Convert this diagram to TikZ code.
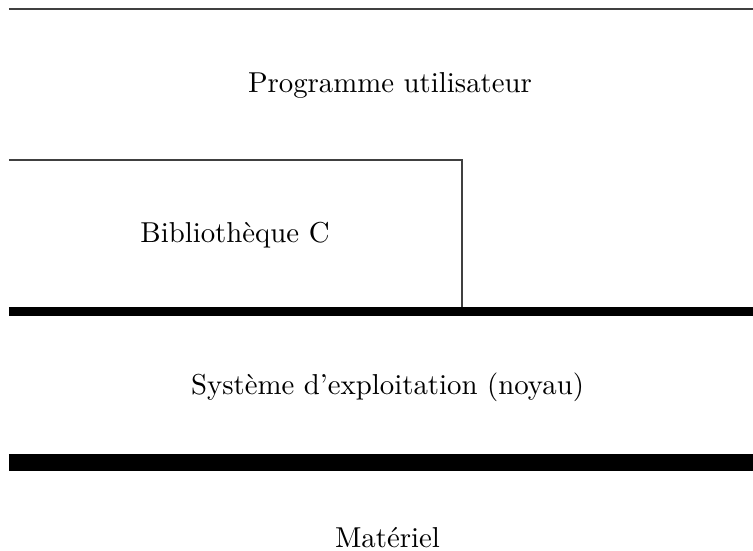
\documentclass[tikz,border=0pt]{standalone}
\usepackage{tikz}

\begin{document}
\begin{tikzpicture}[x=0.0122cm, y=-0.0122cm,
    couche/.style={anchor=base},
    fine/.style={line width=0.4pt, black!75},
    epaisse/.style={line width=2.8pt, black}]
  \useasboundingbox (0,0) rectangle (753,551);

  % separations entre couches
  \coordinate (hautG) at (9,9);
  \coordinate (hautD) at (753,9);
  \coordinate (libG) at (9,160);
  \coordinate (libD) at (462,160);
  \coordinate (libB) at (462,307);
  \coordinate (noyG) at (9,311.5);
  \coordinate (noyD) at (753,311.5);
  \coordinate (matG) at (9,462.5);
  \coordinate (matD) at (753,462.5);

  \draw[fine] (hautG) -- (hautD);
  \draw[fine] (libG) -- (libD) -- (libB);
  \draw[epaisse] (noyG) -- (noyD);
  \draw[epaisse, line width=5.6pt] (matG) -- (matD);

  \node[couche] (prog) at (390,92)  {Programme utilisateur};
  \node[couche] (libc) at (235,242) {Bibliothèque C};
  \node[couche] (noyau) at (387.5,394) {Système d'exploitation (noyau)};
  \node[couche] (mat) at (387.5,547)  {Matériel};
\end{tikzpicture}
\end{document}
